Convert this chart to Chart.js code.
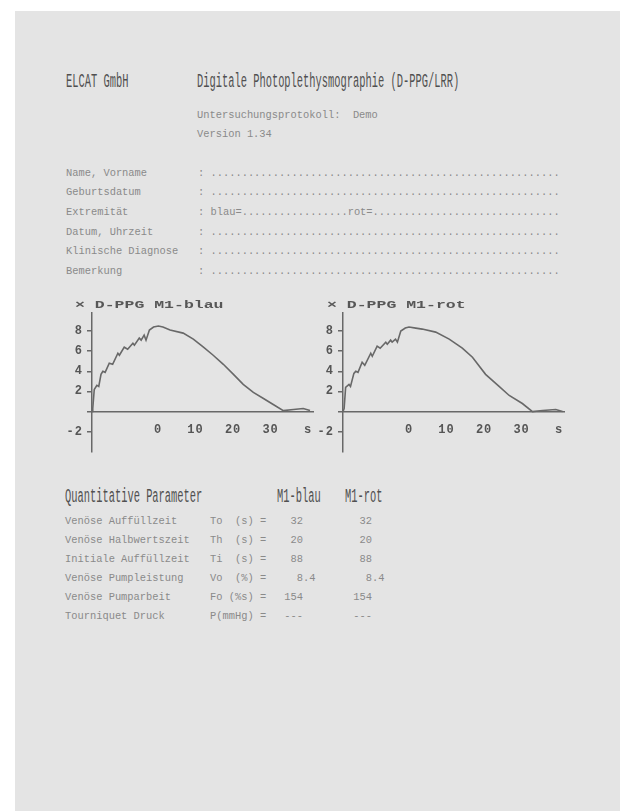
<!DOCTYPE html>
<html>
<head>
<meta charset="utf-8">
<script src="https://cdn.jsdelivr.net/npm/chart.js@4"></script>
<style>
body { margin: 0; background: #fff; width: 620px; height: 811px; overflow: hidden; position: relative; font-family: "Liberation Mono", monospace; }
#sheet { position: absolute; left: 15px; top: 11px; right: 0; bottom: 0; background: #e4e4e4; }
.t { position: absolute; white-space: pre; }
.big { font-size: 20px; line-height: 24px; color: #505050; transform: scaleX(0.52); transform-origin: 0 50%; }
.sm { font-size: 10.4px; line-height: 14px; color: #8a8a8a; }
.ttl { font-size: 10px; line-height: 14px; font-weight: bold; color: #575757; transform: scaleX(1.65); transform-origin: 0 50%; }
canvas { position: absolute; }
</style>
</head>
<body>
<div id="sheet"></div>
<canvas id="ppg_blau" width="260" height="163" style="left:60px;top:300px"></canvas>
<canvas id="ppg_rot" width="260" height="163" style="left:311px;top:300px"></canvas>
<script>
// pumping phase (negative time) and refill phase
const blauT = [-17.6, -17.4, -17.0, -16.3, -15.8, -15.2, -14.7, -14.1, -13.0, -12.1,
	       -10.7, -10.3, -9.0, -8.1, -6.7, -6.3, -5.0, -4.5, -3.7, -3.2,
	       -2.3, -1.2, 0.1, 1.3, 3.2, 6.7, 9.4, 12.1, 14.7, 17.4,
	       20.1, 22.7, 25.4, 28.1, 30.7, 33.4, 36.1, 38.7, 40.5];
const blauV = [0, 0.3, 2.2, 2.6, 2.5, 3.7, 4.0, 3.9, 4.8, 4.7,
	       5.8, 5.6, 6.4, 6.2, 6.8, 6.6, 7.3, 7.1, 7.6, 7.1,
	       8.1, 8.4, 8.5, 8.4, 8.1, 7.8, 7.2, 6.4, 5.6, 4.7,
	       3.7, 2.7, 1.9, 1.3, 0.7, 0.1, 0.2, 0.3, 0.1];
const rotT = [-17.6, -17.3, -16.9, -16.0, -15.6, -14.7, -14.2, -13.6, -12.5, -11.8,
	      -10.2, -9.8, -8.5, -7.7, -6.2, -5.8, -4.9, -4.5, -3.6, -3.1,
	      -2.2, -1.0, 0.0, 1.8, 3.5, 7.1, 10.7, 14.2, 16.9, 20.4,
	      24.0, 26.7, 30.2, 32.9, 35.6, 39.1, 40.9];
const rotV = [0, 0.3, 2.4, 2.7, 2.5, 3.8, 4.0, 3.9, 4.9, 4.6,
	      5.8, 5.5, 6.5, 6.3, 6.9, 6.7, 7.1, 6.9, 7.2, 6.9,
	      8.0, 8.3, 8.4, 8.3, 8.2, 7.9, 7.2, 6.3, 5.4, 3.7,
	      2.5, 1.6, 0.8, 0.0, 0.1, 0.2, 0.0];
const xTicks = [0, 10, 20, 30, 40];
const xTickLabels = ['0', '10', '20', '30', 's'];
const yTicks = [-2, 0, 2, 4, 6, 8];

const formLabels = ['Name, Vorname', 'Geburtsdatum', 'Extremität',
		    'Datum, Uhrzeit', 'Klinische Diagnose', 'Bemerkung'];
const paramNames = ['Venöse Auffüllzeit', 'Venöse Halbwertszeit', 'Initiale Auffüllzeit',
		    'Venöse Pumpleistung', 'Venöse Pumparbeit', 'Tourniquet Druck'];
const paramSymbols = ['To  (s) =', 'Th  (s) =', 'Ti  (s) =', 'Vo  (%) =', 'Fo (%s) =', 'P(mmHg) ='];
const blauValues = ['32', '20', '88', '8.4', '154', '---'];
const rotValues = ['32', '20', '88', '8.4', '154', '---'];

function put(txt, x, y, cls)
{
    var d = document.createElement('div');
    var h = cls == 'big' ? 24 : 14;
    d.className = 't ' + cls;
    d.textContent = txt;
    d.style.left = x + 'px';
    d.style.top = (y - h / 2) + 'px';
    document.body.appendChild(d);
}

// left offset so the integer part of a value ends at the column edge
function int_left(v, edge)
{
    var ip = v.indexOf('.') == -1 ? v.length : v.indexOf('.');
    return edge - ip * 6.25;
}

function draw_text()
{
    put('ELCAT GmbH', 66, 82, 'big');
    put('Digitale Photoplethysmographie (D-PPG/LRR)', 197, 82, 'big');
    put('Untersuchungsprotokoll:  Demo', 197, 115, 'sm');
    put('Version 1.34', 197, 134, 'sm');

    var dots = ': ' + '.'.repeat(56);
    var ext = ': blau=' + '.'.repeat(17) + 'rot=' + '.'.repeat(30);
    var rows_y = [173, 192, 212, 232, 251, 271];
    for (let i = 0; i < formLabels.length; i++) {
	put(formLabels[i], 66, rows_y[i], 'sm');
	put(i == 2 ? ext : dots, 198, rows_y[i], 'sm');
    }

    put('× D-PPG M1-blau', 75, 306, 'ttl');
    put('× D-PPG M1-rot', 327, 306, 'ttl');

    put('Quantitative Parameter', 65, 497, 'big');
    put('M1-blau', 277, 497, 'big');
    put('M1-rot', 345, 497, 'big');
    var tab_y = [521, 540, 559, 578, 597, 616];
    for (let i = 0; i < paramNames.length; i++) {
	put(paramNames[i], 65, tab_y[i], 'sm');
	put(paramSymbols[i], 210, tab_y[i], 'sm');
	put(blauValues[i], int_left(blauValues[i], 303), tab_y[i], 'sm');
	put(rotValues[i], int_left(rotValues[i], 372), tab_y[i], 'sm');
    }
}

const spacing = {
    id: 'spacing',
    beforeDraw: function(chart) { chart.ctx.letterSpacing = '1px'; }
};

function load_ppg(canva_id, ts, vs)
{
    const ctx = document.getElementById(canva_id);
    const tick_font = { family: 'Liberation Mono', weight: 'bold', size: 12 };

    new Chart(ctx, {
	type: 'line',
	data: {
	    datasets: [{
		data: ts.map(function(t, i) { return { x: t, y: vs[i] }; }),
		borderColor: '#686868',
		borderWidth: 1.6,
		pointRadius: 0,
		tension: 0,
		fill: false
	    }]
	},
	options: {
	    animation: false,
	    responsive: false,
	    devicePixelRatio: 1,
	    layout: { padding: { top: 13, right: 7, bottom: 8, left: 0 } },
	    plugins: { legend: { display: false }, tooltip: { enabled: false } },
	    scales: {
		x: {
		    type: 'linear',
		    min: -17.6,
		    max: 41.3,
		    position: { y: 0 },
		    afterBuildTicks: function(s) {
			s.ticks = xTicks.map(function(v) { return { value: v }; });
		    },
		    ticks: {
			autoSkip: false,
			maxRotation: 0,
			padding: 3,
			color: '#555',
			font: tick_font,
			callback: function(v) { return xTickLabels[xTicks.indexOf(v)]; }
		    },
		    grid: { display: false },
		    border: { color: '#686868', width: 1.5 }
		},
		y: {
		    min: -4,
		    max: 9.8,
		    afterBuildTicks: function(s) {
			s.ticks = yTicks.map(function(v) { return { value: v }; });
		    },
		    afterFit: function(s) { s.width = 32; },
		    ticks: {
			padding: 4,
			color: '#555',
			font: tick_font,
			callback: function(v) { return v == 0 ? '' : String(v); }
		    },
		    grid: {
			drawOnChartArea: false,
			drawTicks: true,
			tickLength: 5,
			color: '#686868',
			lineWidth: 1.5
		    },
		    border: { color: '#686868', width: 1.5 }
		}
	    }
	},
	plugins: [spacing]
    });
}

draw_text();
load_ppg('ppg_blau', blauT, blauV);
load_ppg('ppg_rot', rotT, rotV);
</script>
</body>
</html>
